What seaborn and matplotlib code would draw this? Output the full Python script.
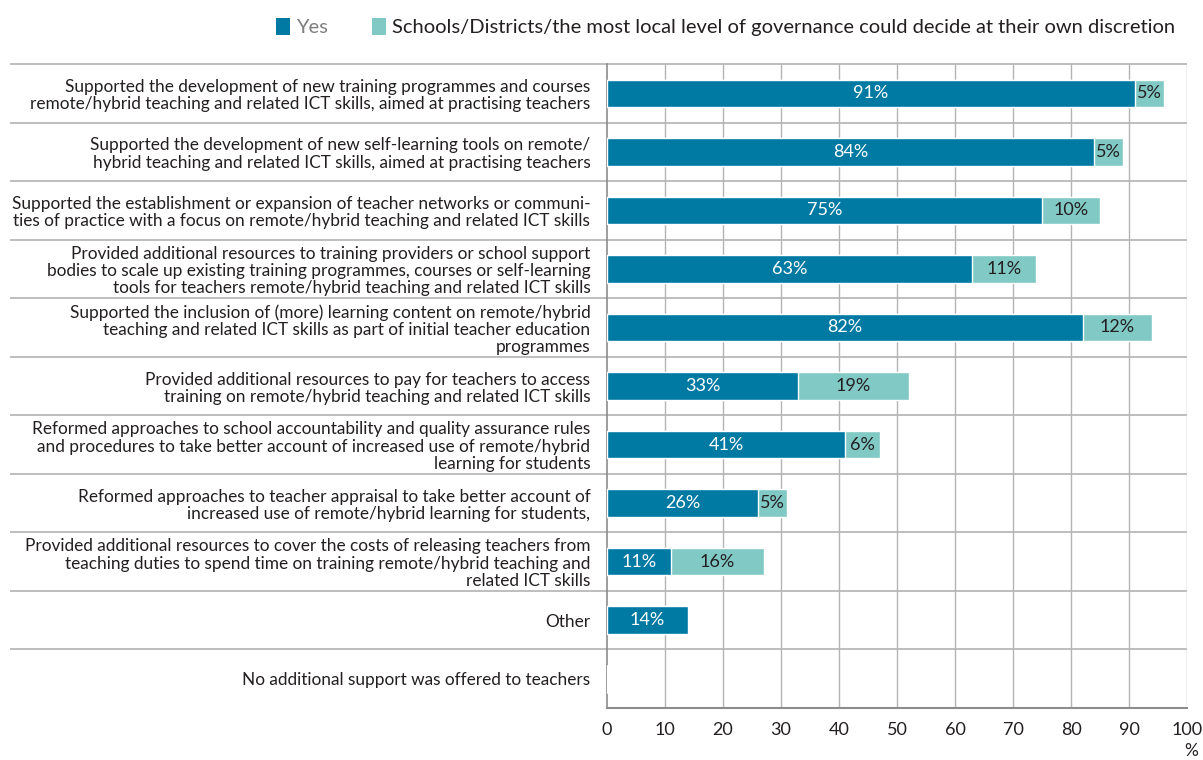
import matplotlib
matplotlib.use("Agg")
import matplotlib.pyplot as plt
from matplotlib.patches import Patch
import seaborn as sns
import pandas as pd

categories = [
    "Supported the development of new training programmes and courses\nremote/hybrid teaching and related ICT skills, aimed at practising teachers",
    "Supported the development of new self-learning tools on remote/\nhybrid teaching and related ICT skills, aimed at practising teachers",
    "Supported the establishment or expansion of teacher networks or communi-\nties of practice with a focus on remote/hybrid teaching and related ICT skills",
    "Provided additional resources to training providers or school support\nbodies to scale up existing training programmes, courses or self-learning\ntools for teachers remote/hybrid teaching and related ICT skills",
    "Supported the inclusion of (more) learning content on remote/hybrid\nteaching and related ICT skills as part of initial teacher education\nprogrammes",
    "Provided additional resources to pay for teachers to access\ntraining on remote/hybrid teaching and related ICT skills",
    "Reformed approaches to school accountability and quality assurance rules\nand procedures to take better account of increased use of remote/hybrid\nlearning for students",
    "Reformed approaches to teacher appraisal to take better account of\nincreased use of remote/hybrid learning for students,",
    "Provided additional resources to cover the costs of releasing teachers from\nteaching duties to spend time on training remote/hybrid teaching and\nrelated ICT skills",
    "Other",
    "No additional support was offered to teachers",
]
yes_values = [91, 84, 75, 63, 82, 33, 41, 26, 11, 14, 0]
discretion_values = [5, 5, 10, 11, 12, 19, 6, 5, 16, 0, 0]
x_ticks = [0, 10, 20, 30, 40, 50, 60, 70, 80, 90, 100]
legend_labels = ["Yes", "Schools/Districts/the most local level of governance could decide at their own discretion"]

YES_COLOR = "#0079A3"
DISC_COLOR = "#80C9C5"
GRID_COLOR = "#B3B3B3"
TEXT_COLOR = "#231F20"

sns.set_theme(style="white")
plt.rcParams["font.family"] = ["Lato", "DejaVu Sans"]

df = pd.DataFrame({
    "category": categories,
    "yes": yes_values,
    "discretion": discretion_values,
})
df["total"] = df["yes"] + df["discretion"]

fig, ax = plt.subplots(figsize=(12.03, 7.60), dpi=100)
fig.subplots_adjust(left=0.5046, right=0.9867, top=0.9158, bottom=0.0684)

# stacked bars: full total in light teal, "Yes" share drawn over it
sns.barplot(data=df, y="category", x="total", color=DISC_COLOR, saturation=1,
            width=0.47, ax=ax, zorder=3)
sns.barplot(data=df, y="category", x="yes", color=YES_COLOR, saturation=1,
            width=0.47, ax=ax, zorder=4)

n = len(categories)
ax.set_xlim(0, 100)
ax.set_ylim(n - 0.5, -0.5)
ax.set_xticks(x_ticks)
ax.set_xticklabels([str(t) for t in x_ticks], fontsize=13, color=TEXT_COLOR)
ax.tick_params(axis="x", length=0, pad=10)
ax.tick_params(axis="y", length=0, pad=12)
ax.set_yticklabels(categories, fontsize=12.4, color=TEXT_COLOR, linespacing=1.1)
ax.set_xlabel("")
ax.set_ylabel("")

# vertical gridlines
for t in x_ticks[1:]:
    ax.axvline(t, color=GRID_COLOR, lw=1.0, zorder=1)

# row separators extending under the category labels
for b in [i - 0.5 for i in range(n)]:
    ax.hlines(b, -1.03, 1.0, transform=ax.get_yaxis_transform(),
              color=GRID_COLOR, lw=1.2, clip_on=False, zorder=2)

for side in ["top", "right"]:
    ax.spines[side].set_visible(False)
ax.spines["left"].set_color("#8C8C8C")
ax.spines["left"].set_linewidth(1.2)
ax.spines["bottom"].set_color("#8C8C8C")
ax.spines["bottom"].set_linewidth(1.5)

# value labels
for i, (y_val, d_val) in enumerate(zip(yes_values, discretion_values)):
    if y_val > 0:
        ax.text(y_val / 2, i, f"{y_val}%", ha="center", va="center",
                color="white", fontsize=13, zorder=5)
    if d_val > 0:
        ax.text(y_val + d_val / 2, i, f"{d_val}%", ha="center", va="center",
                color=TEXT_COLOR, fontsize=13, zorder=5)

ax.text(0.995, -0.055, "%", transform=ax.transAxes, ha="left", va="top",
        fontsize=12.5, color=TEXT_COLOR)

handles = [Patch(facecolor=YES_COLOR, edgecolor="none"),
           Patch(facecolor=DISC_COLOR, edgecolor="none")]
leg = fig.legend(handles, legend_labels, loc="upper right",
                 bbox_to_anchor=(0.992, 1.0), ncol=2, frameon=False,
                 fontsize=14.5, handlelength=0.7, handleheight=0.9,
                 handletextpad=0.3, columnspacing=2.2)
leg.get_texts()[0].set_color("#7F7F7F")
leg.get_texts()[1].set_color(TEXT_COLOR)

fig.savefig("out.png", dpi=100)
